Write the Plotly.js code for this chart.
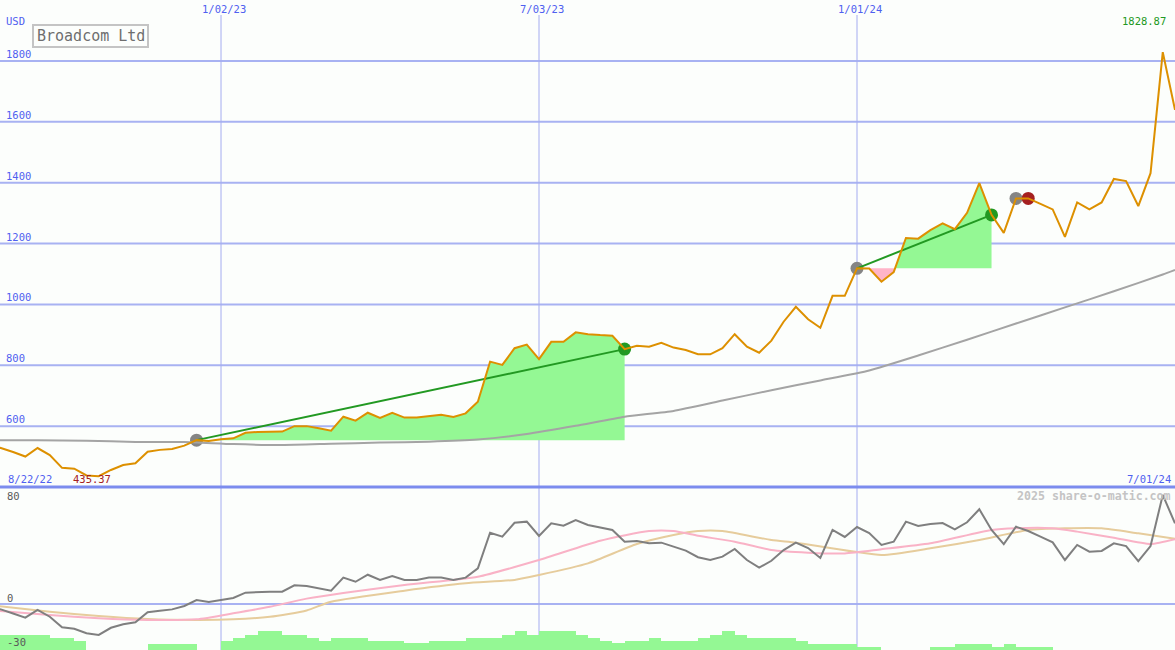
<!DOCTYPE html>
<html><head><meta charset="utf-8">
<script src="https://cdn.plot.ly/plotly-3.0.1.min.js"></script>
<style>html,body{margin:0;padding:0;background:#fcfefc;}</style>
</head><body><div id="chart" style="width:1175px;height:650px;"></div>
<script>
// ---------- DATA ----------
const weeks = [
'2022-08-22','2022-08-29','2022-09-05','2022-09-12','2022-09-19','2022-09-26','2022-10-03','2022-10-10','2022-10-17','2022-10-24','2022-10-31','2022-11-07','2022-11-14','2022-11-21','2022-11-28','2022-12-05','2022-12-12','2022-12-19','2022-12-26',
'2023-01-02','2023-01-09','2023-01-16','2023-01-23','2023-01-30','2023-02-06','2023-02-13','2023-02-20','2023-02-27','2023-03-06','2023-03-13','2023-03-20','2023-03-27','2023-04-03','2023-04-10','2023-04-17','2023-04-24','2023-05-01','2023-05-08','2023-05-15','2023-05-22','2023-05-29','2023-06-05','2023-06-12','2023-06-19','2023-06-26','2023-07-03','2023-07-10','2023-07-17','2023-07-24','2023-07-31','2023-08-07','2023-08-14','2023-08-21','2023-08-28','2023-09-04','2023-09-11','2023-09-18','2023-09-25','2023-10-02','2023-10-09','2023-10-16','2023-10-23','2023-10-30','2023-11-06','2023-11-13','2023-11-20','2023-11-27','2023-12-04','2023-12-11','2023-12-18','2023-12-25',
'2024-01-01','2024-01-08','2024-01-15','2024-01-22','2024-01-29','2024-02-05','2024-02-12','2024-02-19','2024-02-26','2024-03-04','2024-03-11','2024-03-18','2024-03-25','2024-04-01','2024-04-08','2024-04-15','2024-04-22','2024-04-29','2024-05-06','2024-05-13','2024-05-20','2024-05-27','2024-06-03','2024-06-10','2024-06-17','2024-06-24','2024-07-01'];

const price = [
535,528,515,500,528,505,463,460,438,435.37,456,472,478,516,522,525,536,554,551,
557,560,578,581,582,582,600,600,593,585,631,618,644,627,644,628,628,633,637,630,642,680,812,801,856,868,820,877,877,908,902,899,897,853,864,861,874,858,850,836,836,856,902,861,841,881,943,992,951,923,1028,1028,
1118.5,1118,1074.5,1106,1218,1216,1244,1266,1247,1301,1398,1294,1235,1348,1348,1330,1312,1222,1335,1312,1335,1412,1405,1323,1431,1828.87,1639];

const osc = [
-2.0,-3.5,-6.2,-8.9,-3.9,-8.3,-15.2,-16.1,-19.1,-20.2,-15.5,-13.2,-11.9,-5.4,-4.4,-3.5,-1.3,2.6,1.3,
2.6,3.9,7.4,7.8,8.0,8.0,12.2,11.7,10.4,8.7,17.2,14.5,19.1,15.7,18.3,15.7,15.7,17.2,17.2,15.7,17.2,23.3,46.5,43.9,53.0,53.7,44.4,52.6,51.1,54.8,51.5,49.8,48.3,40.6,41.1,39.6,40.0,37.4,34.8,30.5,28.7,30.9,35.9,28.7,23.7,28.2,35.2,40.0,36.5,30.0,48.3,43.7,
50.2,46.3,38.5,40.6,53.7,50.9,52.2,52.8,48.7,53.3,61.8,48.3,39.1,50.4,47.6,43.9,40.2,28.7,38.5,34.1,34.6,39.6,37.8,28.0,37.8,71.1,52.6];

const vol = [
15,15,15,15,15,12,12,9,0,0,0,0,0,6,6,6,6,0,0,
9,12,15,19,19,15,15,12,9,12,12,12,9,9,9,7,7,9,9,9,12,12,12,15,19,15,19,19,19,15,12,9,7,9,9,12,9,9,9,12,15,19,15,12,12,12,12,9,6,6,6,6,
3,3,0,0,0,0,3,3,6,6,6,3,6,3,3,3,0,0,0,0,0,0,0,0,0,0,0];

const maDates = ['2022-08-22','2022-09-19','2022-10-17','2022-11-14','2022-12-12','2023-01-09','2023-02-06','2023-03-06','2023-04-03','2023-05-01','2023-05-29','2023-06-26','2023-07-24','2023-08-21','2023-09-18','2023-10-16','2023-11-13','2023-12-11','2024-01-08','2024-02-05','2024-03-04','2024-04-01','2024-04-29','2024-05-27','2024-06-24','2024-07-01'];
const maVals = [554,554,552,548,548,541,538,542,546,549,556,574,601,631,650,684,718,750,783,832,884,937,990,1043,1098,1113];

const pinkDates = ['2022-08-22','2022-09-26','2022-10-24','2022-11-21','2022-12-19','2023-01-09','2023-01-30','2023-02-20','2023-04-17','2023-05-29','2023-07-03','2023-08-07','2023-09-04','2023-09-18','2023-10-02','2023-10-23','2023-11-13','2023-12-04','2023-12-25','2024-01-15','2024-02-12','2024-03-18','2024-04-01','2024-04-22','2024-05-06','2024-05-27','2024-06-17','2024-07-01'];
const pinkVals = [-4.0,-7.2,-9.3,-10.4,-10.0,-6.1,-1.8,3.5,12.4,17.8,28.7,41.3,47.6,47.6,44.5,40.6,35.2,33.5,33.0,35.7,39.6,48.3,49.4,49.4,47.2,43.2,39.1,42.2];

const tanDates = ['2022-08-22','2022-09-26','2022-10-24','2022-11-21','2022-12-19','2023-01-09','2023-01-30','2023-02-20','2023-03-06','2023-04-17','2023-05-22','2023-06-19','2023-07-03','2023-07-31','2023-08-28','2023-09-18','2023-10-02','2023-10-16','2023-11-13','2023-11-27','2024-01-15','2024-02-12','2024-03-11','2024-04-08','2024-04-29','2024-05-20','2024-06-10','2024-07-01'];
const tanVals = [-0.6,-5.0,-7.8,-9.8,-10.4,-10.0,-8.3,-4.2,1.5,8.7,13.5,15.7,18.9,26.5,39.1,45.0,47.6,47.6,41.7,40.0,32.0,36.3,41.7,48.3,49.4,49.4,46.1,42.6];

const buyDates  = ['2022-12-19','2024-01-01','2024-04-01'];
const sellDates = ['2023-08-21','2024-03-18','2024-04-08'];

const yTicks = [600,800,1000,1200,1400,1600,1800];
const xTicks = ['2023-01-02','2023-07-03','2024-01-01'];
const xTickText = ['1/02/23','7/03/23','1/01/24'];

// ---------- STYLE ----------
const BG='#fcfefc', ORANGE='#dd9000', GREEN='#229922', RED='#a52020', GREY='#858585';
const FILLG='#94f894', FILLP='#ffb4c8', GRID='#a8b2f2', SEP='#7c8cee', VGRID='#a4acf0';
const TXT='#4f60f0', MONO='DejaVu Sans Mono';
const W=1175, H=650, SPLIT=487;
const topDom=[1-SPLIT/H,1], botDom=[0,1-SPLIT/H];
const ms = d => Date.parse(d+'T00:00:00Z');

const traces = [];
buyDates.forEach((bd,k)=>{
  const bi = weeks.indexOf(bd), si = weeks.indexOf(sellDates[k]);
  const base = price[bi];
  const up=[], dn=[];
  for(let i=bi;i<=si;i++){
    if(i>bi){
      const p0=price[i-1], p1=price[i];
      if((p0-base)*(p1-base)<0){
        const f=(base-p0)/(p1-p0);
        const tc=ms(weeks[i-1])+f*(ms(weeks[i])-ms(weeks[i-1]));
        up.push([tc,base]); dn.push([tc,base]);
      }
    }
    up.push([ms(weeks[i]),Math.max(price[i],base)]);
    dn.push([ms(weeks[i]),Math.min(price[i],base)]);
  }
  const t0=ms(weeks[bi]), t1=ms(weeks[si]);
  [[up,FILLG],[dn,FILLP]].forEach(([pts,col])=>{
    traces.push({x:pts.map(p=>p[0]).concat([t1,t0]), y:pts.map(p=>p[1]).concat([base,base]),
      xaxis:'x',yaxis:'y',type:'scatter',mode:'lines',fill:'toself',fillcolor:col,line:{width:0},hoverinfo:'skip'});
  });
});
buyDates.forEach((bd,k)=>{
  const bi=weeks.indexOf(bd), si=weeks.indexOf(sellDates[k]);
  traces.push({x:[weeks[bi]],y:[price[bi]],xaxis:'x',yaxis:'y',type:'scatter',mode:'markers',marker:{size:13,color:GREY}});
  traces.push({x:[weeks[si]],y:[price[si]],xaxis:'x',yaxis:'y',type:'scatter',mode:'markers',marker:{size:13,color:price[si]>price[bi]?GREEN:RED}});
});
traces.push({x:maDates,y:maVals,xaxis:'x',yaxis:'y',type:'scatter',mode:'lines',line:{color:'#a4a4a4',width:2,shape:'spline',smoothing:0.5}});
buyDates.forEach((bd,k)=>{
  const bi=weeks.indexOf(bd), si=weeks.indexOf(sellDates[k]);
  if(price[si]>price[bi]) traces.push({x:[weeks[bi],weeks[si]],y:[price[bi],price[si]],xaxis:'x',yaxis:'y',type:'scatter',mode:'lines',line:{color:GREEN,width:2}});
});
traces.push({x:weeks,y:price,xaxis:'x',yaxis:'y',type:'scatter',mode:'lines',line:{color:ORANGE,width:2}});
traces.push({x:weeks,y:vol,xaxis:'x2',yaxis:'y3',type:'bar',offset:0,width:7*86400000,marker:{color:FILLG,line:{width:0}}});
traces.push({x:tanDates,y:tanVals,xaxis:'x2',yaxis:'y2',type:'scatter',mode:'lines',line:{color:'#e6cc9c',width:2,shape:'spline',smoothing:0.6}});
traces.push({x:pinkDates,y:pinkVals,xaxis:'x2',yaxis:'y2',type:'scatter',mode:'lines',line:{color:'#f9b2c6',width:2,shape:'spline',smoothing:0.6}});
traces.push({x:weeks,y:osc,xaxis:'x2',yaxis:'y2',type:'scatter',mode:'lines',line:{color:'#7f7f7f',width:2}});

const xr=['2022-08-28 12:00','2024-07-01 00:00'];
const ax = {type:'date',range:xr,showgrid:false,zeroline:false,showticklabels:false,showline:false,ticks:''};
const shapes=[];
yTicks.forEach(v=>shapes.push({type:'line',xref:'paper',yref:'y',x0:0,x1:1,y0:v,y1:v,line:{color:GRID,width:2},layer:'below'}));
shapes.push({type:'line',xref:'paper',yref:'y2',x0:0,x1:1,y0:0,y1:0,line:{color:GRID,width:2},layer:'below'});
xTicks.forEach(d=>shapes.push({type:'line',xref:'x',yref:'paper',x0:d,x1:d,y0:0,y1:1-15/H,line:{color:VGRID,width:1},layer:'below'}));
shapes.push({type:'line',xref:'paper',yref:'paper',x0:0,x1:1,y0:1-SPLIT/H,y1:1-SPLIT/H,line:{color:SEP,width:3},layer:'below'});
shapes.push({type:'rect',xref:'paper',yref:'paper',x0:33/W,x1:148/W,y0:1-25/H,y1:1-47/H,line:{color:'#c4c4c4',width:2},fillcolor:'rgba(0,0,0,0)',layer:'above'});

const ann=[];
const txt=(t,px,py,col,anchor,size,bold)=>ann.push({text:bold?'<b>'+t+'</b>':t,xref:'paper',yref:'paper',x:px/W,y:1-py/H,xanchor:anchor,yanchor:'middle',showarrow:false,font:{family:MONO,size:size||10.5,color:col}});
yTicks.forEach(v=>ann.push({text:String(v),xref:'paper',yref:'y',x:4/W,y:v,yshift:7,xanchor:'left',yanchor:'middle',showarrow:false,font:{family:MONO,size:10.5,color:TXT}}));
xTicks.forEach((d,i)=>ann.push({text:xTickText[i],xref:'x',yref:'paper',x:d,y:1-9/H,xshift:3,xanchor:'center',yanchor:'middle',showarrow:false,font:{family:MONO,size:10.5,color:TXT}}));
txt('USD',4,21,TXT,'left');
txt('Broadcom Ltd',91,36,'#6e6e6e','center',15);
const maxI = price.indexOf(Math.max(...price)), minI = price.indexOf(Math.min(...price));
txt(price[maxI].toFixed(2),1168,21,GREEN,'right');
ann.push({text:price[minI].toFixed(2),xref:'x',yref:'paper',x:weeks[minI],y:1-479/H,xshift:-7,xanchor:'center',yanchor:'middle',showarrow:false,font:{family:MONO,size:10.5,color:RED}});
txt('8/22/22',6,479,TXT,'left');
txt('7/01/24',1173,479,TXT,'right');
txt('2025 share-o-matic.com',1173,496,'#c4c4c4','right',11.6,true);
txt('80',5,496,'#5a5a5a','left');
txt('0',5,598,'#5a5a5a','left');
txt('-30',5,642,'#5a5a5a','left');

const layout={width:W,height:H,margin:{l:0,r:0,t:0,b:0,pad:0},paper_bgcolor:BG,plot_bgcolor:BG,showlegend:false,bargap:0,
  xaxis:Object.assign({},ax,{domain:[0,1],anchor:'y'}),
  xaxis2:Object.assign({},ax,{domain:[0,1],anchor:'y2'}),
  yaxis:{domain:topDom,range:[400,2000],showgrid:false,zeroline:false,showticklabels:false,ticks:''},
  yaxis2:{domain:botDom,range:[-30,76.3],showgrid:false,zeroline:false,showticklabels:false,ticks:''},
  yaxis3:{overlaying:'y2',range:[0,163],showgrid:false,zeroline:false,showticklabels:false,ticks:''},
  shapes:shapes,annotations:ann};
Plotly.newPlot('chart',traces,layout,{staticPlot:true,displayModeBar:false});
</script></body></html>
